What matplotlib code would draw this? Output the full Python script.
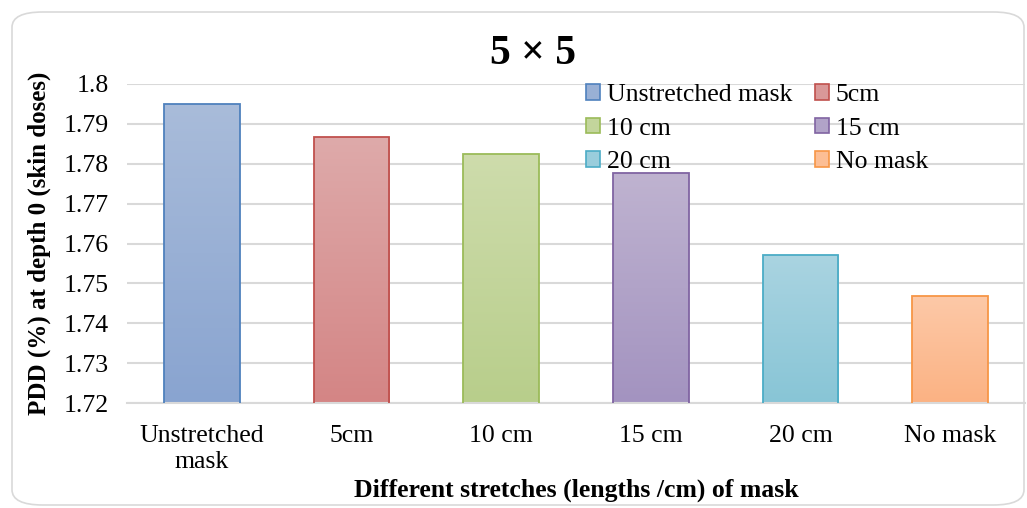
import matplotlib
matplotlib.use("Agg")
import matplotlib.pyplot as plt
import numpy as np
from matplotlib.patches import Patch, FancyBboxPatch
from matplotlib.colors import LinearSegmentedColormap

plt.rcParams['font.family'] = ['Liberation Serif', 'DejaVu Serif']

categories = ["Unstretched\nmask", "5cm", "10 cm", "15 cm", "20 cm", "No mask"]
legend_labels = ["Unstretched mask", "5cm", "10 cm", "15 cm", "20 cm", "No mask"]
values = [1.795, 1.7867, 1.7825, 1.7777, 1.7572, 1.7469]
yticks = [1.72, 1.73, 1.74, 1.75, 1.76, 1.77, 1.78, 1.79, 1.8]
ytick_labels = ["1.72", "1.73", "1.74", "1.75", "1.76", "1.77", "1.78", "1.79", "1.8"]

top_colors = ["#A9BCDA", "#DEAAAA", "#CEDCAC", "#BFB3D0", "#AAD4E1", "#FDC9A8"]
bottom_colors = ["#89A4D0", "#D48585", "#B8CE8B", "#A393C0", "#88C5D6", "#FBB283"]
edge_colors = ["#4F81BD", "#C0504D", "#9BBB59", "#8064A2", "#4BACC6", "#F79646"]

W, H = 1027, 508
fig = plt.figure(figsize=(W / 100, H / 100), dpi=100)

# rounded border
border = FancyBboxPatch((12 / W, 3 / H), (1012 / W), (493 / H),
                        boxstyle="round,pad=0,rounding_size=0.03",
                        transform=fig.transFigure, fill=False,
                        edgecolor="#D9D9D9", linewidth=1.2)
fig.patches.append(border)

ax = fig.add_axes([127 / W, 1 - 403 / H, 898 / W, (403 - 84) / H])
x = np.arange(len(categories))
bars = ax.bar(x, values, width=0.507, color="none", edgecolor=edge_colors,
              linewidth=1.3, zorder=3)

for b, tc, bc in zip(bars, top_colors, bottom_colors):
    cmap = LinearSegmentedColormap.from_list("g", [bc, tc])
    x0, y0 = b.get_x(), 1.72
    x1, y1 = b.get_x() + b.get_width(), b.get_height()
    grad = np.linspace(0, 1, 256).reshape(-1, 1)
    im = ax.imshow(grad, cmap=cmap, origin="lower", aspect="auto",
                   extent=(x0, x1, y0, y1), zorder=2)
    im.set_clip_path(b)

ax.set_xlim(-0.5, len(categories) - 0.5)
ax.set_ylim(1.72, 1.8)
ax.set_yticks(yticks)
ax.set_yticklabels(ytick_labels, fontsize=18.5)
ax.set_xticks(x)
ax.set_xticklabels(categories, fontsize=18.5, linespacing=1.25)
ax.tick_params(axis='both', length=0)
ax.tick_params(axis='x', pad=16)
ax.tick_params(axis='y', pad=13)
ax.grid(axis='y', color="#D9D9D9", linewidth=1.5, zorder=0)
ax.set_axisbelow(True)
for s in ["top", "right", "left"]:
    ax.spines[s].set_visible(False)
ax.spines["bottom"].set_color("#D9D9D9")
ax.spines["bottom"].set_linewidth(1.5)

ax.set_ylabel("PDD (%) at depth 0 (skin doses)", fontsize=18, fontweight="bold", labelpad=9)
ax.set_xlabel("Different stretches (lengths /cm) of mask", fontsize=18.5, fontweight="bold", labelpad=4)
fig.text(533 / W, 1 - 54 / H, "5 × 5", fontsize=30, fontweight="bold", ha="center", va="center")

handles = [Patch(facecolor=(np.array(matplotlib.colors.to_rgb(t)) + np.array(matplotlib.colors.to_rgb(b))) / 2,
                 edgecolor=e, linewidth=1.2) for t, b, e in zip(top_colors, bottom_colors, edge_colors)]
order = [0, 2, 4, 1, 3, 5]
leg = ax.legend([handles[i] for i in order], [legend_labels[i] for i in order], ncol=2, loc="upper left",
                bbox_to_anchor=(581 / W, 1 - 79 / H), bbox_transform=fig.transFigure,
                frameon=False, fontsize=18.5, handlelength=0.55, handleheight=0.55,
                handletextpad=0.25, columnspacing=0.9, labelspacing=0.45,
                borderpad=0.2, borderaxespad=0)

fig.savefig("out.png", dpi=100)
